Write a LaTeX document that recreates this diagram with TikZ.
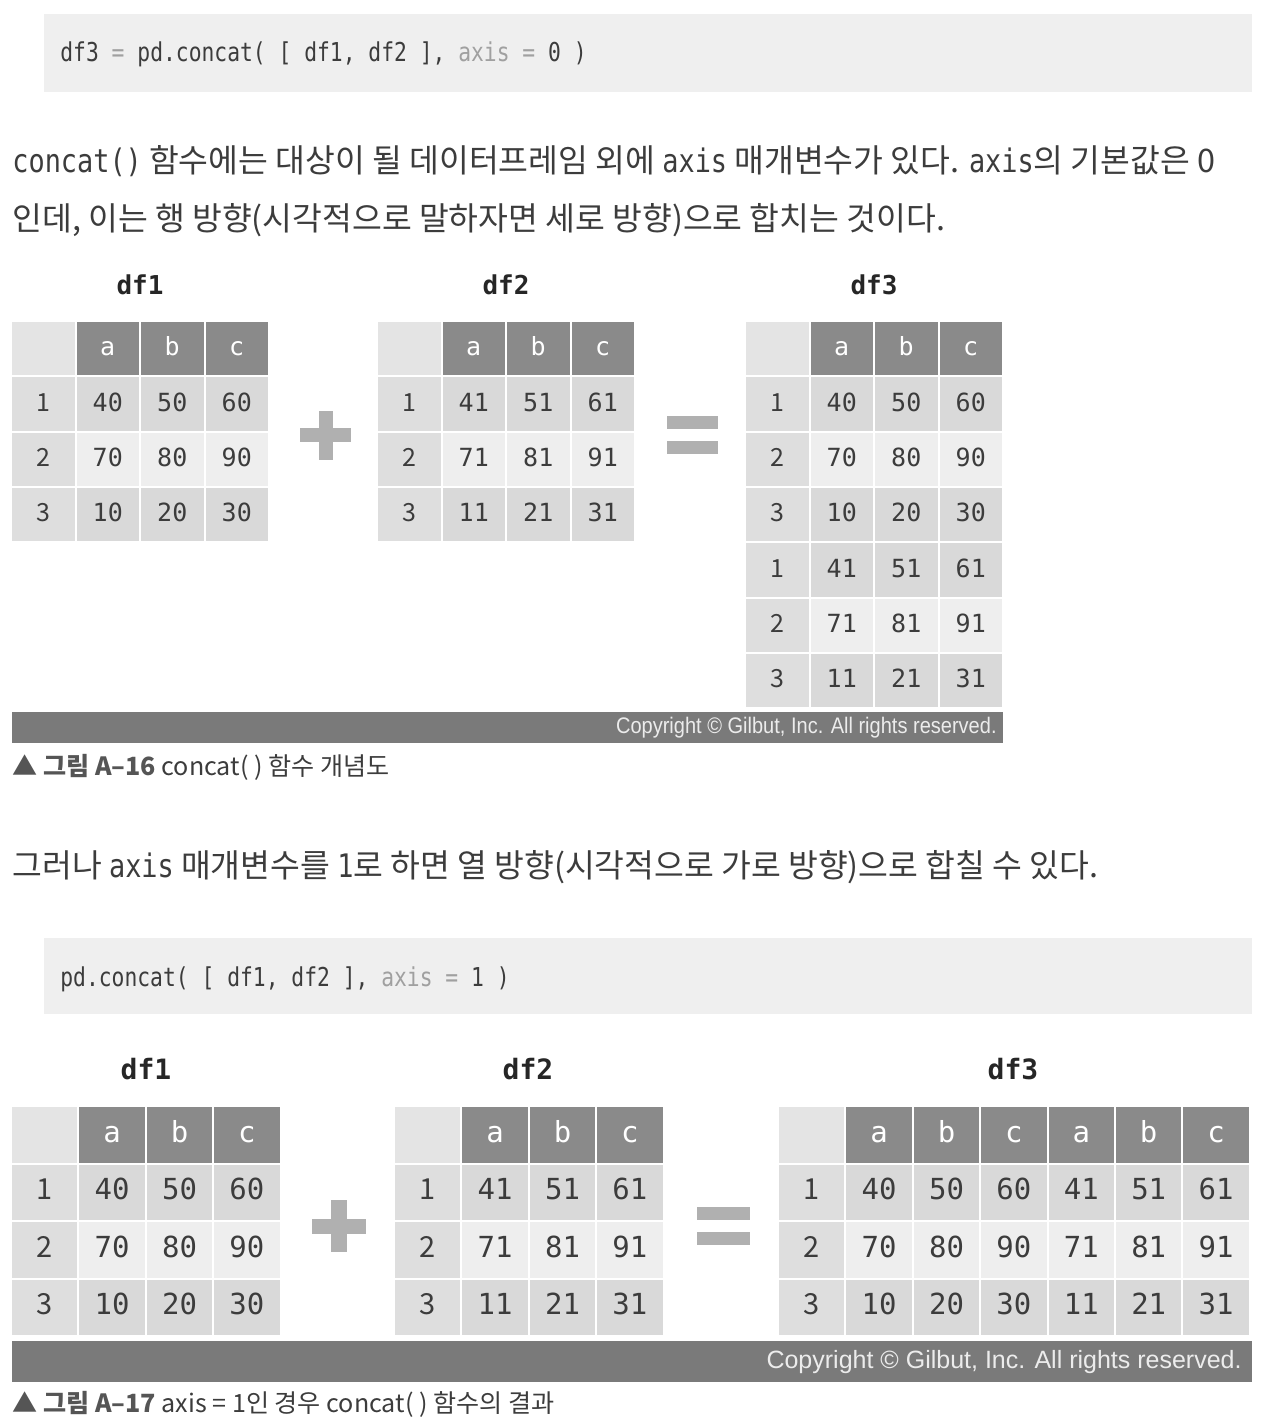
\documentclass[tikz,border=0pt]{standalone}
\usepackage{fontspec}
\setmainfont{Noto Sans CJK KR}
\newfontfamily\kr{Noto Sans CJK KR}
\newfontfamily\codefont{DejaVu Sans Mono}[FakeStretch=0.82]
\newfontfamily\bodymono{DejaVu Sans Mono}[FakeStretch=0.83]
\newfontfamily\tabfont{DejaVu Sans Mono}
\newfontfamily\cpfont{Liberation Sans}[FakeStretch=0.89]
\newfontfamily\cpfontwide{Liberation Sans}
\usetikzlibrary{positioning}

\definecolor{codebg}{HTML}{EFEFEF}
\definecolor{codegray}{HTML}{A0A0A0}
\definecolor{textgray}{HTML}{3C3C3C}
\definecolor{capgray}{HTML}{555555}
\definecolor{headgray}{HTML}{8A8A8A}
\definecolor{cornergray}{HTML}{E4E4E4}
\definecolor{idxgray}{HTML}{DEDEDE}
\definecolor{valdark}{HTML}{D9D9D9}
\definecolor{vallight}{HTML}{EEEEEE}
\definecolor{signgray}{HTML}{B0B0B0}
\definecolor{bargray}{HTML}{7A7A7A}
\definecolor{cpwhite}{HTML}{ECECEC}

\tikzset{
  codebox/.style={fill=codebg},
  codetext/.style={anchor=base west,inner sep=0pt,text=textgray,font=\codefont\fontsize{13}{15}\selectfont},
  bodytext/.style={anchor=base west,inner sep=0pt,text=textgray,font=\kr\fontsize{16.2}{19}\selectfont},
  captext/.style={anchor=base west,inner sep=0pt,text=textgray,font=\kr\fontsize{12.55}{15}\selectfont},
  dflabel/.style={inner sep=0pt,text=black!85,font=\tabfont\bfseries\fontsize{13}{15}\selectfont},
  cellfont/.style={font=\tabfont\fontsize{12.5}{15}\selectfont},
  idxfont/.style={font=\kr\fontsize{12.5}{15}\selectfont},
  headtext/.style={cellfont,text=white,inner sep=0pt,text height=0.73em,text depth=0pt},
  idxtext/.style={idxfont,text=textgray,inner sep=0pt,text height=0.73em,text depth=0pt},
  valtext/.style={cellfont,text=textgray,inner sep=0pt,text height=0.73em,text depth=0pt},
  sign/.style={fill=signgray,draw=none,inner sep=0pt},
  cpbar/.style={fill=bargray},
  cptext/.style={anchor=east,inner sep=0pt,text=cpwhite,font=\cpfont\fontsize{11.25}{13}\selectfont}
}

% #1 name, (#2,#3) top left, #4 col pitch, #5 row pitch, #6 headers, #7 rows
\newcommand{\dftable}[7]{%
  \fill[cornergray] (#2,#3) rectangle ++(#4-2,#5-2);
  \foreach \h [count=\c] in {#6} {
    \fill[headgray] ({#2+\c*#4},#3) rectangle ++(#4-2,#5-2);
    \node[headtext] (#1-h\c) at ({#2+\c*#4+#4/2-1},{#3+#5/2-1}) {\h};
  }
  \foreach \i/\vals [count=\r] in {#7} {
    \fill[idxgray] (#2,{#3+\r*#5}) rectangle ++(#4-2,#5-2);
    \node[idxtext] (#1-i\r) at ({#2+#4/2-1},{#3+\r*#5+#5/2-1}) {\i};
    \foreach \v [count=\c] in \vals {
      \ifnum\i=2 \def\cellshade{vallight}\else\def\cellshade{valdark}\fi
      \fill[\cellshade] ({#2+\c*#4},{#3+\r*#5}) rectangle ++(#4-2,#5-2);
      \node[valtext] (#1-\r-\c) at ({#2+\c*#4+#4/2-1},{#3+\r*#5+#5/2-1}) {\v};
    }
  }
}

\begin{document}
\begin{tikzpicture}[x=0.5pt,y=-0.5pt]
  \useasboundingbox (0,0) rectangle (1268,1422);

  % axis = 0
  \fill[codebox] (44,14) rectangle (1252,92);
  \node[codetext] (code1) at (60,62) {df3 {\color{codegray}=} pd.concat( [ df1, df2 ], {\color{codegray}axis =} 0 )};

  \node[bodytext] (para1) at (12,173) {{\bodymono concat()} 함수에는 대상이 될 데이터프레임 외에 {\bodymono axis} 매개변수가 있다. {\bodymono axis}의 기본값은 0};
  \node[bodytext] (para2) at (12,231) {인데, 이는 행 방향(시각적으로 말하자면 세로 방향)으로 합치는 것이다.};

  \node[dflabel] (lab1) at (140,285) {df1};
  \node[dflabel] (lab2) at (506,285) {df2};
  \node[dflabel] (lab3) at (874,285) {df3};

  \dftable{A}{12}{322}{64.5}{55.3}{a,b,c}{1/{40,50,60},2/{70,80,90},3/{10,20,30}}
  \dftable{B}{378}{322}{64.5}{55.3}{a,b,c}{1/{41,51,61},2/{71,81,91},3/{11,21,31}}
  \dftable{C}{746}{322}{64.5}{55.3}{a,b,c}{1/{40,50,60},2/{70,80,90},3/{10,20,30},1/{41,51,61},2/{71,81,91},3/{11,21,31}}

  \node[sign,minimum width=25.5pt,minimum height=7pt] (plus1h) at (325.5,435.5) {};
  \node[sign,minimum width=7pt,minimum height=24.5pt] (plus1v) at (325.5,435.5) {};
  \node[sign,minimum width=25.5pt,minimum height=6.5pt] (eq1a) at (692.5,423) {};
  \node[sign,minimum width=25.5pt,minimum height=6.5pt] (eq1b) at (692.5,447.5) {};

  \fill[cpbar] (12,712) rectangle (1003,743);
  \node[cptext] (copy1) at (997,728) {Copyright © Gilbut, Inc. All rights reserved.};

  \node[captext] (cap1) at (12,775) {{\bfseries\color{capgray}▲ 그림 A–16} concat( ) 함수 개념도};

  % axis = 1
  \node[bodytext] (para3) at (12,877) {그러나 {\bodymono axis} 매개변수를 {\bodymono 1}로 하면 열 방향(시각적으로 가로 방향)으로 합칠 수 있다.};

  \fill[codebox] (44,938) rectangle (1252,1014);
  \node[codetext] (code2) at (60,986) {pd.concat( [ df1, df2 ], {\color{codegray}axis =} 1 )};

  \begin{scope}[cellfont/.style={font=\tabfont\fontsize{14.5}{17}\selectfont},
                idxfont/.style={font=\kr\fontsize{14.5}{17}\selectfont},
                dflabel/.append style={font=\tabfont\bfseries\fontsize{14}{16}\selectfont}]
    \node[dflabel] (lab4) at (146,1069) {df1};
    \node[dflabel] (lab5) at (528,1069) {df2};
    \node[dflabel] (lab6) at (1013,1069) {df3};

    \dftable{D}{12}{1107}{67.4}{57.6}{a,b,c}{1/{40,50,60},2/{70,80,90},3/{10,20,30}}
    \dftable{E}{395}{1107}{67.4}{57.6}{a,b,c}{1/{41,51,61},2/{71,81,91},3/{11,21,31}}
    \dftable{F}{779}{1107}{67.4}{57.6}{a,b,c,a,b,c}{1/{40,50,60,41,51,61},2/{70,80,90,71,81,91},3/{10,20,30,11,21,31}}
  \end{scope}

  \node[sign,minimum width=27pt,minimum height=7.5pt] (plus2h) at (339,1226) {};
  \node[sign,minimum width=8pt,minimum height=26pt] (plus2v) at (339,1226) {};
  \node[sign,minimum width=26.5pt,minimum height=6.5pt] (eq2a) at (723.5,1213.5) {};
  \node[sign,minimum width=26.5pt,minimum height=6.5pt] (eq2b) at (723.5,1238) {};

  \fill[cpbar] (12,1341) rectangle (1252,1382);
  \node[cptext,font=\cpfontwide\fontsize{12.5}{15}\selectfont] (copy2) at (1242,1362) {Copyright © Gilbut, Inc. All rights reserved.};

  \node[captext] (cap2) at (12,1412) {{\bfseries\color{capgray}▲ 그림 A–17} axis = 1인 경우 concat( ) 함수의 결과};
\end{tikzpicture}
\end{document}
